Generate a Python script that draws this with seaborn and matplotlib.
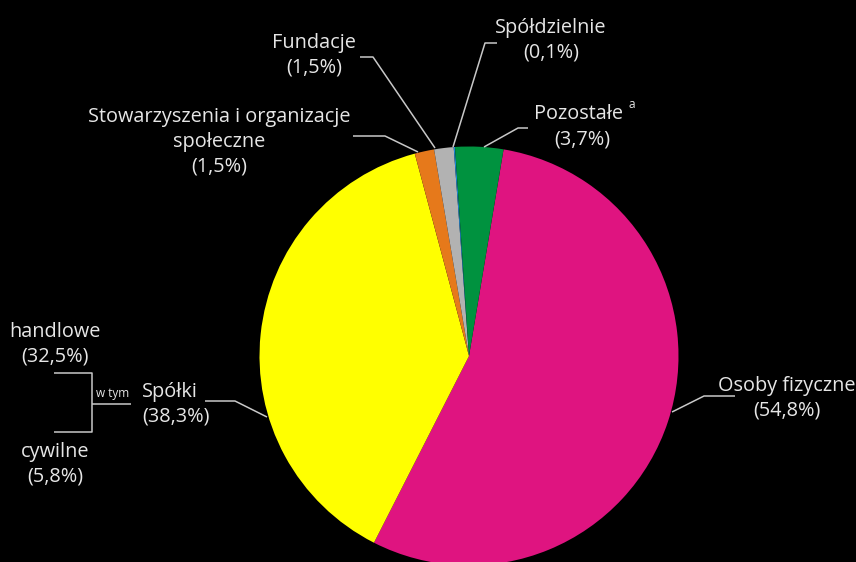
import matplotlib
matplotlib.use("Agg")
import matplotlib.pyplot as plt
import seaborn as sns

# data (clockwise from the top)
categories = ["Osoby fizyczne", "Spółki", "Stowarzyszenia i organizacje\nspołeczne",
              "Fundacje", "Spółdzielnie", "Pozostałe"]
shares = [54.8, 38.3, 1.5, 1.5, 0.1, 3.7]
share_labels = ["(54,8%)", "(38,3%)", "(1,5%)", "(1,5%)", "(0,1%)", "(3,7%)"]
colors = ["#DF1480", "#FFFF00", "#E6791B", "#B2B2B2", "#1E88D6", "#00923F"]

sub_categories = ["handlowe", "cywilne"]
sub_labels = ["(32,5%)", "(5,8%)"]

sns.set_theme(style="white")
plt.rcParams["font.family"] = ["Open Sans", "DejaVu Sans"]

W, H = 856, 562
fig = plt.figure(figsize=(W / 100, H / 100), dpi=100, facecolor="black")
ax = fig.add_axes([0, 0, 1, 1])
ax.set_facecolor("black")

def Y(y):
    return H - y

ax.pie(shares, colors=colors, startangle=80.5, counterclock=False,
       center=(469, Y(356)), radius=209.5, frame=True,
       wedgeprops=dict(linewidth=0))
ax.set_xlim(0, W)
ax.set_ylim(0, H)
ax.set_aspect("equal")
ax.axis("off")

txt = "#E6E6E6"
line_c = "#C8C8C8"
fs = 14.3

def leader(points):
    xs = [p[0] for p in points]
    ys = [Y(p[1]) for p in points]
    ax.plot(xs, ys, color=line_c, lw=1.1, solid_capstyle="butt")

def label(x, y, s, ha="center"):
    ax.text(x, Y(y), s, color=txt, fontsize=fs, ha=ha, va="center", linespacing=1.33)

# Osoby fizyczne
label(787, 398, categories[0] + "\n" + share_labels[0])
leader([(672, 412), (704, 396), (735, 396)])

# Spółki
label(142, 404, categories[1] + "\n" + share_labels[1], ha="left")
leader([(267, 417), (235, 401), (205, 401)])

# Stowarzyszenia
label(219, 142, categories[2] + "\n" + share_labels[2])
leader([(418, 152), (385, 136), (353, 136)])

# Fundacje
label(314, 55, categories[3] + "\n" + share_labels[3])
leader([(435, 148), (373, 57), (360, 57)])

# Spółdzielnie
label(551, 40, categories[4] + "\n" + share_labels[4])
leader([(453, 147), (485, 43), (497, 43)])

# Pozostałe
label(579, 114, categories[5])
ax.text(632, Y(104), "a", color=txt, fontsize=8.5, ha="center", va="center")
label(582, 139, share_labels[5])
leader([(484, 147), (518, 128), (528, 128)])

# sub-categories of Spółki
label(55, 344, sub_categories[0] + "\n" + sub_labels[0])
label(55, 464, sub_categories[1] + "\n" + sub_labels[1])
leader([(54, 373), (92, 373), (92, 432), (54, 432)])
leader([(92, 404), (131, 404)])
ax.text(113, Y(394), "w tym", color=txt, fontsize=8.5, ha="center", va="center")

fig.savefig("out.png", dpi=100, facecolor="black")
